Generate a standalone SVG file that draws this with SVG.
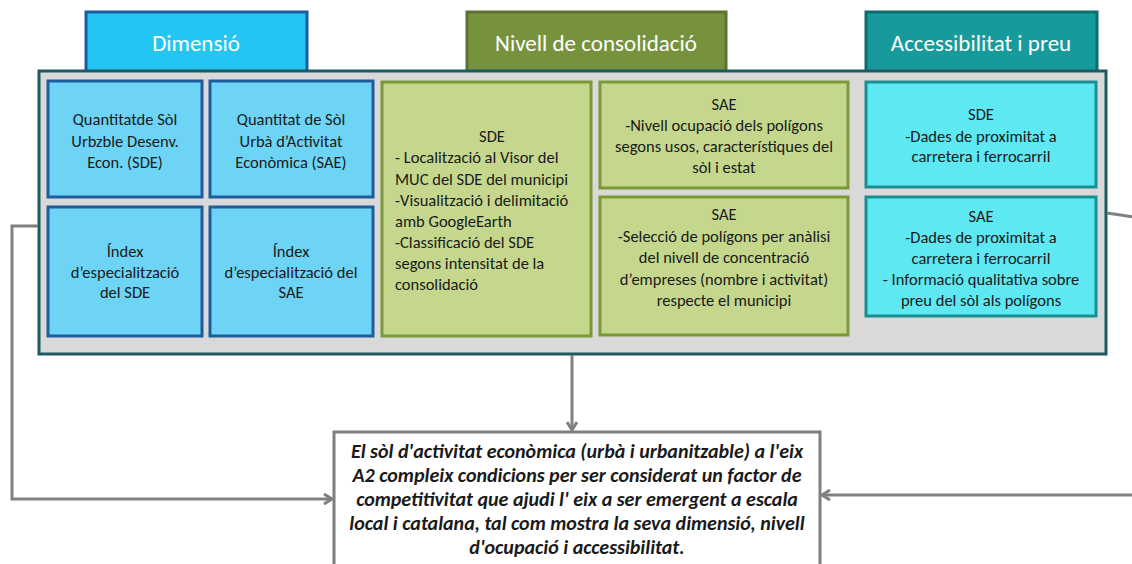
<svg xmlns="http://www.w3.org/2000/svg" width="1132" height="564" viewBox="0 0 1132 564">
<style>
.t{font-family:Carlito,Lato,"Liberation Sans",sans-serif;font-size:16.5px;fill:#1a1a1a;text-anchor:middle}
.l{text-anchor:start}
.tab{font-family:Carlito,Lato,"Liberation Sans",sans-serif;font-size:23px;fill:#ffffff;text-anchor:middle}
.b{fill:#6dd4f6;stroke:#1f5c9c;stroke-width:3}
.g{fill:#c4d78d;stroke:#7b9936;stroke-width:3}
.c{fill:#5ee8f2;stroke:#1b8e94;stroke-width:3}
.con{fill:none;stroke:#808080;stroke-width:3}
.main{font-family:Carlito,Lato,"Liberation Sans",sans-serif;font-size:20px;font-weight:bold;font-style:italic;fill:#1a1a1a;text-anchor:middle}
</style>
<defs>
<marker id="ah" markerWidth="12" markerHeight="12" viewBox="0 0 12 12" refX="10" refY="6" orient="auto" markerUnits="userSpaceOnUse">
<polyline points="2,1 10,6 2,11" fill="none" stroke="#808080" stroke-width="3"/>
</marker>
</defs>
<g id="tabs">
<g id="tab-dimensio"><rect x="86" y="12" width="221" height="60" fill="#25c5f3" stroke="#1b5c9e" stroke-width="3"/><text class="tab" x="196" y="51">Dimensió</text></g>
<g id="tab-nivell"><rect x="467" y="12" width="259" height="60" fill="#76923c" stroke="#5a7430" stroke-width="3"/><text class="tab" x="596" y="51">Nivell de consolidació</text></g>
<g id="tab-access"><rect x="866" y="12" width="231" height="60" fill="#179a9c" stroke="#0f6d6f" stroke-width="3"/><text class="tab" x="981" y="51">Accessibilitat i preu</text></g>
</g>
<g id="container"><rect x="39" y="71" width="1067" height="283" fill="#d9d9d9" stroke="#1e5b60" stroke-width="3"/></g>
<g id="n1"><rect class="b" x="48" y="81" width="154" height="116"/>
<text class="t" x="125" y="125">Quantitatde Sòl</text><text class="t" x="125" y="147">Urbzble Desenv.</text><text class="t" x="125" y="168">Econ. (SDE)</text></g>
<g id="n2"><rect class="b" x="210" y="81" width="163" height="116"/>
<text class="t" x="291" y="125">Quantitat de Sòl</text><text class="t" x="291" y="147">Urbà d’Activitat</text><text class="t" x="291" y="168">Econòmica (SAE)</text></g>
<g id="n3"><rect class="b" x="48" y="207" width="154" height="129"/>
<text class="t" x="125" y="257">Índex</text><text class="t" x="125" y="278">d’especialització</text><text class="t" x="125" y="298">del SDE</text></g>
<g id="n4"><rect class="b" x="210" y="207" width="163" height="129"/>
<text class="t" x="291" y="257">Índex</text><text class="t" x="291" y="278">d’especialització del</text><text class="t" x="291" y="298">SAE</text></g>
<g id="n5"><rect class="g" x="382" y="82" width="209" height="254"/>
<text class="t" x="492" y="142">SDE</text>
<text class="t l" x="395" y="163">- Localització al Visor del</text>
<text class="t l" x="395" y="185">MUC del SDE del municipi</text>
<text class="t l" x="395" y="206">-Visualització i delimitació</text>
<text class="t l" x="395" y="227">amb GoogleEarth</text>
<text class="t l" x="395" y="248">-Classificació  del SDE</text>
<text class="t l" x="395" y="269">segons intensitat de la</text>
<text class="t l" x="395" y="290">consolidació</text></g>
<g id="n6"><rect class="g" x="600" y="82" width="248" height="106"/>
<text class="t" x="724" y="110">SAE</text><text class="t" x="724" y="131">-Nivell ocupació dels polígons</text><text class="t" x="724" y="152">segons usos, característiques del</text><text class="t" x="724" y="173">sòl i estat</text></g>
<g id="n7"><rect class="g" x="600" y="197" width="248" height="138"/>
<text class="t" x="724" y="220">SAE</text><text class="t" x="724" y="242">-Selecció de polígons per anàlisi</text><text class="t" x="724" y="263">del nivell de concentració</text><text class="t" x="724" y="285">d’empreses (nombre i activitat)</text><text class="t" x="724" y="306">respecte el municipi</text></g>
<g id="n8"><rect class="c" x="866" y="82" width="230" height="105"/>
<text class="t" x="981" y="120">SDE</text><text class="t" x="981" y="142">-Dades de proximitat a</text><text class="t" x="981" y="162">carretera i ferrocarril</text></g>
<g id="n9"><rect class="c" x="866" y="197" width="230" height="119"/>
<text class="t" x="981" y="222">SAE</text><text class="t" x="981" y="243">-Dades de proximitat a</text><text class="t" x="981" y="264">carretera i ferrocarril</text><text class="t" x="981" y="285">- Informació qualitativa sobre</text><text class="t" x="981" y="306">preu del sòl als polígons</text></g>
<g id="conclusion"><rect x="334" y="432" width="486" height="140" fill="#ffffff" stroke="#7f7f7f" stroke-width="3"/>
<text class="main" x="577" y="458">El sòl d'activitat econòmica (urbà i urbanitzable) a l'eix</text>
<text class="main" x="577" y="482">A2 compleix condicions per ser considerat un factor de</text>
<text class="main" x="577" y="506">competitivitat que ajudi l' eix a ser emergent a escala</text>
<text class="main" x="577" y="530">local i catalana, tal com mostra la seva dimensió, nivell</text>
<text class="main" x="577" y="554">d'ocupació i accessibilitat.</text></g>
<g id="connectors">
<path class="con" d="M572,355 V430" marker-end="url(#ah)"/>
<path class="con" d="M38,226 H12 V499 H332" marker-end="url(#ah)"/>
<path class="con" d="M1107,213 L1134,217"/>
<path class="con" d="M1134,495 H822" marker-end="url(#ah)"/>
</g>
</svg>
